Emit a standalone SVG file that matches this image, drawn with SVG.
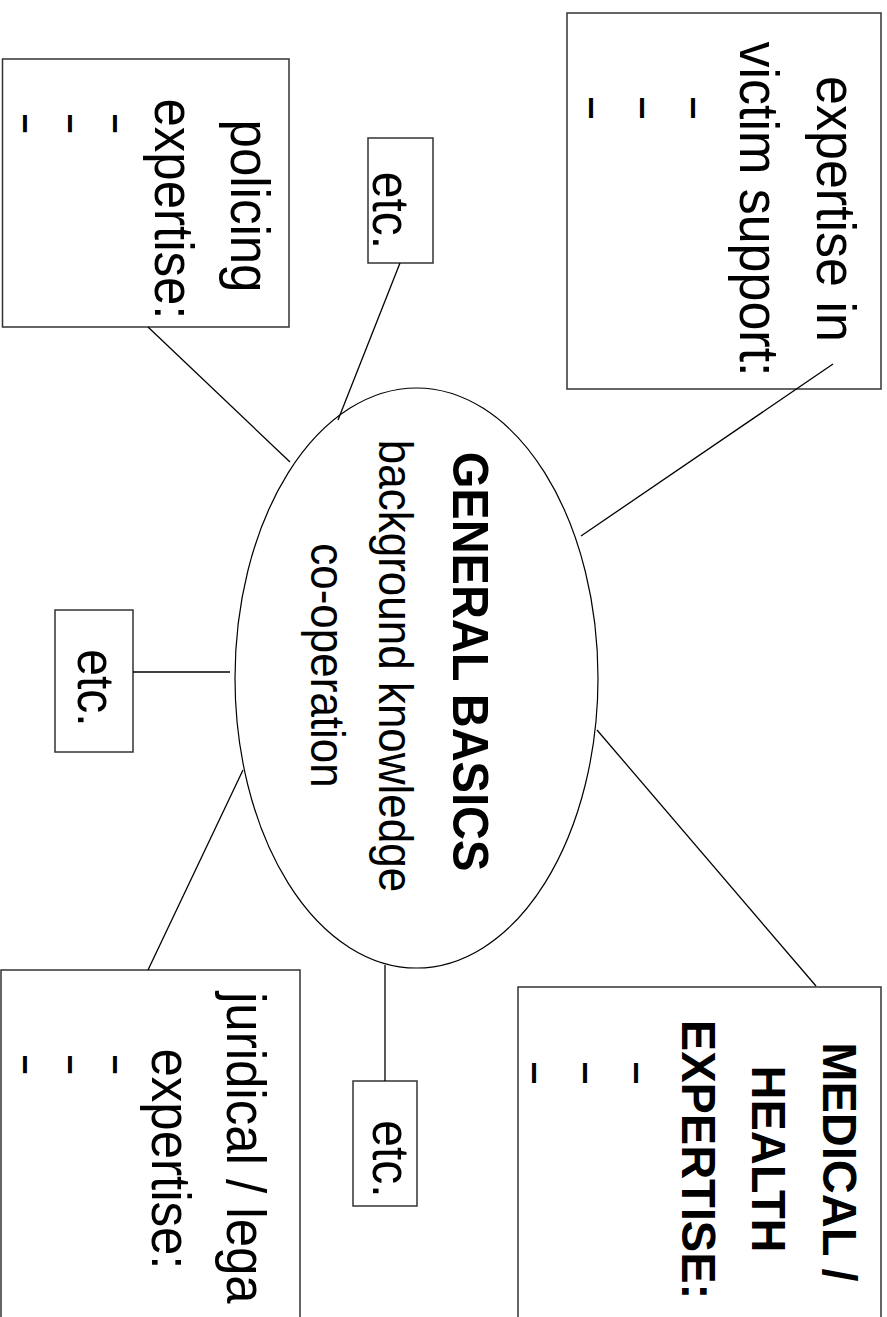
<svg xmlns="http://www.w3.org/2000/svg" width="887" height="1317" viewBox="0 0 887 1317">
<style>
.box{fill:#fff;stroke:#333;stroke-width:1.5}
.ell{fill:#fff;stroke:#000;stroke-width:1.2}
.conn line{stroke:#000;stroke-width:1.3}
.t{font-family:"Liberation Sans",Arial,Helvetica,sans-serif;fill:#000}
.m{text-anchor:middle}
.b{font-weight:bold;font-size:47px}
.r52{font-size:52px}
.r51{font-size:51px}
.r44{font-size:44px}
.e{font-size:48px}
.d{font-size:36px}
.ds{font-size:31px}
</style>
<rect width="887" height="1317" fill="#fff"/>

<g id="center">
<ellipse class="ell" cx="416.5" cy="678" rx="181.5" ry="290"/>
<text class="t b m" transform="translate(453,661.5) rotate(90) scale(1,1.08)">GENERAL BASICS</text>
<text class="t r44 m" transform="translate(379,666) rotate(90) scale(1,1.08)">background knowledge</text>
<text class="t r44 m" transform="translate(311,665.5) rotate(90) scale(1,1.08)">co-operation</text>
</g>

<g id="victim">
<rect class="box" x="567" y="13" width="314" height="376"/>
<text class="t r52 m" transform="translate(817,209) rotate(90) scale(1,1.08)">expertise in</text>
<text class="t r52 m" transform="translate(740,209) rotate(90) scale(1,1.08)">victim support:</text>
<text class="t d" transform="translate(576,98) rotate(90) scale(1,1.67)">–</text>
<text class="t d" transform="translate(627,98) rotate(90) scale(1,1.67)">–</text>
<text class="t d" transform="translate(678,98) rotate(90) scale(1,1.67)">–</text>
</g>

<g id="policing">
<rect class="box" x="2.5" y="59" width="286.5" height="268"/>
<text class="t r51 m" transform="translate(231,206) rotate(90) scale(1,1.08)">policing</text>
<text class="t r51 m" transform="translate(155,209) rotate(90) scale(1,1.08)">expertise:</text>
<text class="t ds" transform="translate(10,115) rotate(90) scale(1,1.85)">–</text>
<text class="t ds" transform="translate(55,115) rotate(90) scale(1,1.85)">–</text>
<text class="t ds" transform="translate(100,115) rotate(90) scale(1,1.85)">–</text>
</g>

<g id="juridical">
<rect class="box" x="1" y="970" width="299" height="400"/>
<text class="t r51" transform="translate(227,992) rotate(90) scale(1,1.08)">juridical / lega</text>
<text class="t r51 m" transform="translate(152,1159) rotate(90) scale(1,1.08)">expertise:</text>
<text class="t ds" transform="translate(10,1056) rotate(90) scale(1,1.85)">–</text>
<text class="t ds" transform="translate(55,1056) rotate(90) scale(1,1.85)">–</text>
<text class="t ds" transform="translate(100,1056) rotate(90) scale(1,1.85)">–</text>
</g>

<g id="medical">
<rect class="box" x="518" y="987" width="363" height="332"/>
<text class="t b m" transform="translate(823,1162) rotate(90) scale(1,1.03)">MEDICAL /</text>
<text class="t b m" transform="translate(752,1159) rotate(90) scale(1,1.03)">HEALTH</text>
<text class="t b m" transform="translate(682,1159.5) rotate(90) scale(1,1.03)">EXPERTISE:</text>
<text class="t d" transform="translate(519,1063) rotate(90) scale(1,1.67)">–</text>
<text class="t d" transform="translate(570,1063) rotate(90) scale(1,1.67)">–</text>
<text class="t d" transform="translate(621,1063) rotate(90) scale(1,1.67)">–</text>
</g>

<g id="etc-top">
<rect class="box" x="368" y="138" width="65" height="125"/>
<text class="t e m" transform="translate(373,210.5) rotate(90) scale(1,1.08)">etc.</text>
</g>

<g id="etc-left">
<rect class="box" x="55" y="610" width="78" height="142"/>
<text class="t e m" transform="translate(78,688) rotate(90) scale(1,1.08)">etc.</text>
</g>

<g id="etc-bottom">
<rect class="box" x="353" y="1081" width="64" height="125"/>
<text class="t e m" transform="translate(373,1159) rotate(90) scale(1,1.08)">etc.</text>
</g>

<g id="connectors" class="conn">
<line x1="400" y1="263" x2="338" y2="420"/>
<line x1="133" y1="672" x2="230" y2="672"/>
<line x1="385" y1="965" x2="385" y2="1081"/>
<line x1="833" y1="364" x2="581" y2="536"/>
<line x1="148" y1="327" x2="290" y2="462"/>
<line x1="597" y1="730" x2="816" y2="986"/>
<line x1="243" y1="770" x2="148" y2="970"/>
</g>
</svg>
